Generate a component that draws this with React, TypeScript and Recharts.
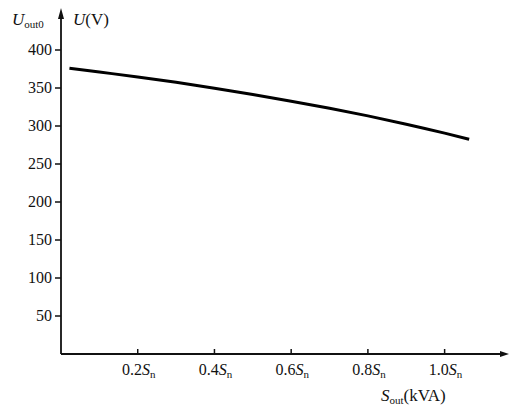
import React from "react";
import { LineChart, Line, XAxis, YAxis, Label } from "recharts";

const loadS = [0.022, 0.1, 0.2, 0.3, 0.4, 0.5, 0.6, 0.7, 0.8, 0.9, 1.0, 1.064];
const voltage = [376, 371, 364.6, 357.5, 349.8, 341.5, 332.7, 323.3, 313.3, 302.4, 290.6, 282.5];
const xTicks = [0.2, 0.4, 0.6, 0.8, 1.0];
const yTicks = [50, 100, 150, 200, 250, 300, 350, 400];

const data = loadS.map((s, i) => ({ s, v: voltage[i] }));

const FONT = "'Liberation Serif', 'Times New Roman', serif";
const INK = "#111";

const XTick = (props: any) => {
  const { x, y, payload } = props;
  return (
    <g>
      <line x1={x} x2={x} y1={y - 5} y2={y} stroke={INK} strokeWidth={1.5} />
      <text x={x + 1} y={y + 21} textAnchor="middle" fontFamily={FONT} fontSize={16} fill={INK}>
        {Number(payload.value).toFixed(1)}
        <tspan fontStyle="italic">S</tspan>
        <tspan fontSize={11} dy={3}>n</tspan>
      </text>
    </g>
  );
};

const YTick = (props: any) => {
  const { x, y, payload } = props;
  return (
    <text x={x} y={y} dy={5} textAnchor="end" fontFamily={FONT} fontSize={16} fill={INK}>
      {payload.value}
    </text>
  );
};

const YTitle = (props: any) => {
  const vb = props.viewBox || {};
  const ax = vb.x + vb.width;
  const top = vb.y;
  return (
    <g>
      <polygon points={`${ax},${top - 4} ${ax - 3},${top + 7} ${ax + 3},${top + 7}`} fill={INK} />
      <text x={12} y={25} fontFamily={FONT} fontSize={17} fill={INK}>
        <tspan fontStyle="italic">U</tspan>
        <tspan fontSize={11} dy={3}>out0</tspan>
      </text>
      <text x={73} y={25} fontFamily={FONT} fontSize={17} fill={INK}>
        <tspan fontStyle="italic">U</tspan>
        <tspan>(V)</tspan>
      </text>
    </g>
  );
};

const XTitle = (props: any) => {
  const vb = props.viewBox || {};
  const right = vb.x + vb.width;
  const ay = vb.y;
  return (
    <g>
      <polygon points={`${right + 3},${ay} ${right - 6},${ay - 3} ${right - 6},${ay + 3}`} fill={INK} />
      <text x={381} y={401} fontFamily={FONT} fontSize={17} fill={INK}>
        <tspan fontStyle="italic">S</tspan>
        <tspan fontSize={11} dy={3}>out</tspan>
        <tspan dy={-3}>(kVA)</tspan>
      </text>
    </g>
  );
};

export default function App() {
  return (
    <div style={{ position: "absolute", left: 0, top: 0, width: 510, height: 408, background: "#fff" }}>
      <LineChart
        width={510}
        height={408}
        data={data}
        margin={{ top: 12, right: 4, bottom: 0, left: 0 }}
      >
        <XAxis
          type="number"
          dataKey="s"
          domain={[0, 1.16]}
          ticks={xTicks}
          allowDataOverflow
          axisLine={{ stroke: INK, strokeWidth: 1.8 }}
          tickLine={false}
          tickSize={0}
          tickMargin={0}
          height={54}
          tick={<XTick />}
          interval={0}
        >
          <Label content={<XTitle />} />
        </XAxis>
        <YAxis
          type="number"
          domain={[0, 450]}
          ticks={yTicks}
          allowDataOverflow
          width={61}
          axisLine={{ stroke: INK, strokeWidth: 1.8 }}
          tickLine={{ stroke: INK, strokeWidth: 1.5 }}
          tickSize={6}
          tickMargin={3}
          tick={<YTick />}
          interval={0}
        >
          <Label content={<YTitle />} />
        </YAxis>
        <Line
          type="monotone"
          dataKey="v"
          stroke="#000"
          strokeWidth={3}
          dot={false}
          isAnimationActive={false}
        />
      </LineChart>
    </div>
  );
}
